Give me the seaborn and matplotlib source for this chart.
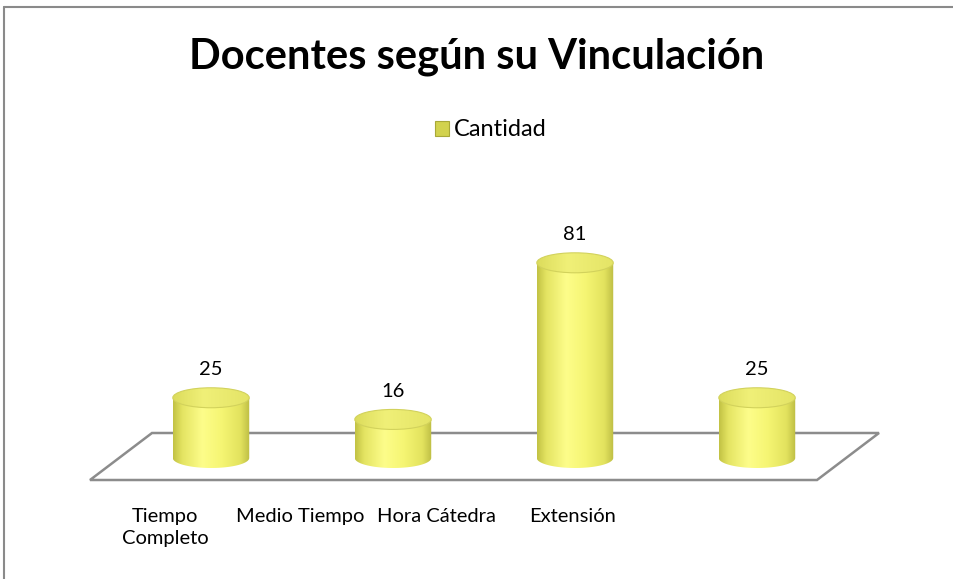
import numpy as np
import pandas as pd
import matplotlib
matplotlib.use("Agg")
import matplotlib.pyplot as plt
import seaborn as sns
from matplotlib.colors import LinearSegmentedColormap
from matplotlib.patches import Ellipse, Polygon, Patch
from matplotlib.lines import Line2D

# Data
categorias = ["Tiempo Completo", "Medio Tiempo", "Hora Cátedra", "Extensión"]
etiquetas = ["Tiempo\nCompleto", "Medio Tiempo", "Hora Cátedra", "Extensión"]
cantidad = [25, 16, 81, 25]
serie = "Cantidad"
titulo = "Docentes según su Vinculación"

sns.set_theme(style="white")
plt.rcParams["font.family"] = ["Lato", "DejaVu Sans"]
plt.rcParams["text.color"] = "black"
plt.rcParams["xtick.color"] = "black"

W, H = 954, 579
fig = plt.figure(figsize=(W / 100, H / 100), dpi=100)
fig.patch.set_facecolor("white")


def px_box(left, top, right, bottom):
    return [left / W, 1 - bottom / H, (right - left) / W, (bottom - top) / H]


# plotting area
ax_l, ax_t, ax_r, ax_b = 88, 230, 880, 480
ax = fig.add_axes(px_box(ax_l, ax_t, ax_r, ax_b))
df = pd.DataFrame({"categoria": categorias, "valor": cantidad})
sns.barplot(data=df, x="categoria", y="valor", color="#f2f26e", width=0.42,
            ax=ax, zorder=3)

spacing = 182.0
center0 = 211.0
ax.set_xlim((ax_l - center0) / spacing, (ax_r - center0) / spacing)
scale = 2.41
base = 458.0
ax.set_ylim(-(ax_b - base) / scale, (base - ax_t) / scale)
ax.set_axis_off()

ry = 10.0 / scale  # half-height of the elliptical faces, in data units

body_cmap = LinearSegmentedColormap.from_list(
    "body", [(0.0, "#c2c244"), (0.12, "#e4e462"), (0.38, "#fdfd8a"),
             (0.62, "#f6f674"), (0.88, "#e2e25e"), (1.0, "#bdbd44")])
top_cmap = LinearSegmentedColormap.from_list(
    "top", [(0.0, "#dcdc5c"), (0.4, "#f0f078"), (1.0, "#e4e466")])
grad = np.linspace(0, 1, 256).reshape(1, -1)

container = ax.containers[0]
for bar in container.patches:
    x0, w, h = bar.get_x(), bar.get_width(), bar.get_height()
    cx = x0 + w / 2
    bar.set_facecolor("none")
    bar.set_edgecolor("none")
    # cylinder body: side from the base ellipse's front half up to the top
    t = np.linspace(np.pi, 2 * np.pi, 60)
    lower = np.column_stack([cx + w / 2 * np.cos(t), ry * np.sin(t)])
    outline = np.vstack([[[x0, h]], lower, [[x0 + w, h]]])
    body_clip = Polygon(outline, closed=True, transform=ax.transData)
    im = ax.imshow(grad, cmap=body_cmap, aspect="auto",
                   extent=(x0, x0 + w, -ry, h), zorder=3,
                   interpolation="bicubic")
    im.set_clip_path(body_clip)
    # top face
    top = Ellipse((cx, h), w, 2 * ry, transform=ax.transData)
    im2 = ax.imshow(grad, cmap=top_cmap, aspect="auto",
                    extent=(x0, x0 + w, h - ry, h + ry), zorder=4,
                    interpolation="bicubic")
    im2.set_clip_path(top)
    ax.add_patch(Ellipse((cx, h), w, 2 * ry, facecolor="none",
                         edgecolor="#d2d25c", lw=0.8, zorder=5))

ax.bar_label(container, labels=[str(v) for v in cantidad], padding=14,
             fontsize=14.5, color="black")


# floor of the plot
def ax_pt(px, py):
    return ((px - ax_l) / (ax_r - ax_l), (ax_b - py) / (ax_b - ax_t))


floor = Polygon([ax_pt(152, 433), ax_pt(879, 433), ax_pt(817, 480), ax_pt(90, 480)],
                closed=True, fill=False, edgecolor="#8c8c8c", lw=1.8,
                transform=ax.transAxes, clip_on=False, zorder=1)
ax.add_patch(floor)

# category labels
lab_ax = fig.add_axes(px_box(97, 497, 640, 498))
lab_ax.set_xlim(-0.5, 3.5)
lab_ax.set_xticks(range(len(etiquetas)))
lab_ax.set_xticklabels(etiquetas, fontsize=14.5, color="black")
for lbl in lab_ax.get_xticklabels():
    lbl.set_linespacing(1.4)
lab_ax.set_yticks([])
lab_ax.tick_params(axis="x", length=0, pad=7)
for s in lab_ax.spines.values():
    s.set_visible(False)
lab_ax.patch.set_alpha(0)

# title and legend
fig.text(477 / W, 1 - 57 / H, titulo, fontsize=30, fontweight="bold",
         ha="center", va="center", color="black")
handle = Patch(facecolor="#d2d24e", edgecolor="#a8a838", lw=0.8)
fig.legend([handle], [serie], loc="center", bbox_to_anchor=(491 / W, 1 - 130 / H),
           frameon=False, fontsize=17, handlelength=0.6, handleheight=0.6,
           handletextpad=0.2)

# outer frame
fig.add_artist(Line2D([4 / W, 1.0], [1 - 7 / H, 1 - 7 / H], color="#8a8a8a", lw=1.5))
fig.add_artist(Line2D([4 / W, 4 / W], [0, 1 - 7 / H], color="#8a8a8a", lw=1.5))

fig.savefig("out.png", dpi=100, facecolor="white")
